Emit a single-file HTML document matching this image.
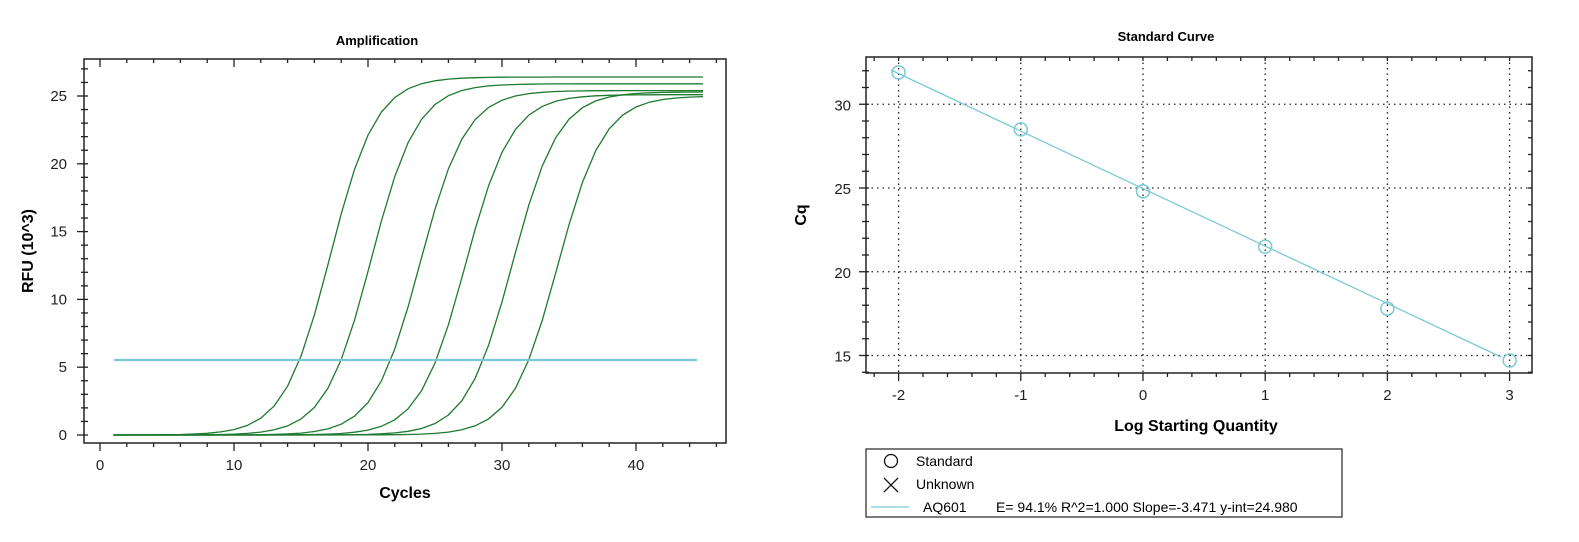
<!DOCTYPE html>
<html><head><meta charset="utf-8"><style>
body{margin:0;background:#fff;}
svg text{font-family:"Liberation Sans",Arial,sans-serif;}
</style></head><body>
<svg id="s" width="1579" height="537" xmlns="http://www.w3.org/2000/svg">
<rect width="1579" height="537" fill="#fff"/>
<!-- Left chart -->
<text x="377" y="45" font-size="13" font-weight="bold" text-anchor="middle">Amplification</text>
<rect x="84" y="59" width="642" height="384" fill="none" stroke="#222" stroke-width="1.5"/>
<g id="lt" stroke="#222" stroke-width="1.3"></g>
<g id="ll" font-size="15" fill="#222"></g>
<text x="405" y="498" font-size="16" font-weight="bold" text-anchor="middle">Cycles</text>
<text transform="translate(33,251) rotate(-90)" font-size="16" font-weight="bold" text-anchor="middle">RFU (10^3)</text>
<g id="curves" fill="none" stroke="#1e7a2e" stroke-width="1.3"></g>
<line x1="114" y1="360" x2="697" y2="360" stroke="#79c9d6" stroke-width="2.2"/>
<!-- Right chart -->
<text x="1166" y="41" font-size="13" font-weight="bold" text-anchor="middle">Standard Curve</text>
<g id="grid" stroke="#222" stroke-width="1.3" stroke-dasharray="1.5,4"></g>
<rect x="866" y="57" width="666" height="316" fill="none" stroke="#222" stroke-width="1.5"/>
<g id="rt" stroke="#222" stroke-width="1.3"></g>
<g id="rl" font-size="15" fill="#222"></g>
<text x="1196" y="431" font-size="16" font-weight="bold" text-anchor="middle">Log Starting Quantity</text>
<text transform="translate(806,215) rotate(-90)" font-size="16" font-weight="bold" text-anchor="middle">Cq</text>
<line x1="891" y1="70" x2="1501" y2="357" stroke="#79c9d6" stroke-width="1.3"/>
<g id="pts" fill="none" stroke="#79c9d6" stroke-width="1.5"></g>
<!-- legend -->
<rect x="866" y="449" width="476" height="68" fill="none" stroke="#222" stroke-width="1.2"/>
<circle cx="891" cy="461" r="6.5" fill="none" stroke="#111" stroke-width="1.3"/>
<text x="916" y="466" font-size="14">Standard</text>
<path d="M884 478 L898 492 M898 478 L884 492" stroke="#111" stroke-width="1.3"/>
<text x="916" y="489" font-size="14">Unknown</text>
<line x1="871" y1="507" x2="909" y2="507" stroke="#79c9d6" stroke-width="1.3"/>
<text x="923" y="512" font-size="14">AQ601</text>
<text x="996" y="512" font-size="14">E= 94.1% R^2=1.000 Slope=-3.471 y-int=24.980</text>
</svg>
<script>
var NS="http://www.w3.org/2000/svg";
function el(p,t,a,txt){var e=document.createElementNS(NS,t);for(var k in a)e.setAttribute(k,a[k]);if(txt!=null)e.textContent=txt;document.getElementById(p).appendChild(e);return e;}
var X=function(c){return 100+c*13.4}, Y=function(v){return 435-v*13.56};
for(var c=0;c<=46;c+=2){var big=c%10==0;el('lt','line',{x1:X(c),x2:X(c),y1:443,y2:big?451:447});el('lt','line',{x1:X(c),x2:X(c),y1:59,y2:big?67:63});}
for(var c=0;c<=40;c+=10)el('ll','text',{x:X(c),y:470,'text-anchor':'middle'},c);
for(var v=0;v<=27;v+=1){var big=v%5==0;if(Y(v)<60)continue;el('lt','line',{x1:big?77:81,x2:84,y1:Y(v),y2:Y(v)});el('lt','line',{x1:84,x2:88,y1:Y(v),y2:Y(v)});}
for(var v=0;v<=25;v+=5)el('ll','text',{x:67,y:Y(v)+5,'text-anchor':'end'},v);
var cts=[14.8,17.9,21.6,25.0,28.5,31.9],pl=[26.4,25.9,25.4,25.1,25.3,25.0];
for(var i=0;i<6;i++){var P=pl[i],s=1.72,m=cts[i]-s*Math.log(5.3/(P-5.3));var d='';
for(var c=1;c<=45;c++){var f=P/(1+Math.exp(-(c-m)/s));d+=(c==1?'M':'L')+X(c).toFixed(1)+' '+Y(f).toFixed(1);}
el('curves','path',{d:d});}
var RX=function(l){return 1143+l*122.2}, RY=function(q){return 188-(q-25)*16.75};
for(var l=-2;l<=3;l++){el('grid','line',{x1:RX(l),x2:RX(l),y1:57,y2:373});}
for(var q=15;q<=30;q+=5){el('grid','line',{x1:866,x2:1532,y1:RY(q),y2:RY(q)});}
for(var k=-11;k<=16;k++){var l=k*0.2;var x=RX(l);if(x<867||x>1531)continue;var big=k%5==0;el('rt','line',{x1:x,x2:x,y1:373,y2:big?381:377});el('rt','line',{x1:x,x2:x,y1:57,y2:61});}
for(var l=-2;l<=3;l++)el('rl','text',{x:RX(l),y:400,'text-anchor':'middle'},l);
for(var q=14;q<=32;q++){var big=q%5==0;var y=RY(q);if(y>373||y<57)continue;el('rt','line',{x1:big?859:862,x2:869,y1:y,y2:y});el('rt','line',{x1:1528,x2:1532,y1:y,y2:y});}
for(var q=15;q<=30;q+=5)el('rl','text',{x:851,y:RY(q)+6,'text-anchor':'end'},q);
var pts=[[-2,31.9],[-1,28.5],[0,24.8],[1,21.5],[2,17.8],[3,14.7]];
pts.forEach(function(p){el('pts','circle',{cx:RX(p[0]),cy:RY(p[1]),r:6.5});});
</script>
</body></html>
